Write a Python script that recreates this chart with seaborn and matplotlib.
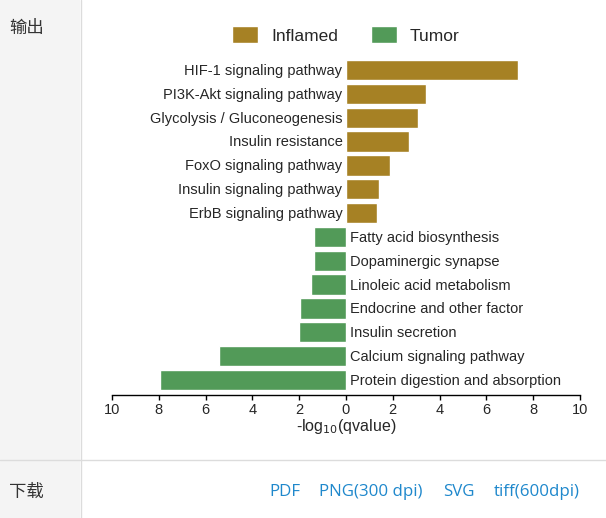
import pandas as pd
import seaborn as sns
import matplotlib.pyplot as plt
from matplotlib.patches import Patch, Rectangle
from matplotlib.lines import Line2D
from matplotlib.ticker import FuncFormatter, MultipleLocator

# pathways enriched in each group, -log10(qvalue)
inflamed_terms = ["HIF-1 signaling pathway", "PI3K-Akt signaling pathway",
                  "Glycolysis / Gluconeogenesis", "Insulin resistance",
                  "FoxO signaling pathway", "Insulin signaling pathway",
                  "ErbB signaling pathway"]
inflamed_vals = [7.34, 3.42, 3.06, 2.68, 1.87, 1.42, 1.34]

tumor_terms = ["Fatty acid biosynthesis", "Dopaminergic synapse",
               "Linoleic acid metabolism", "Endocrine and other factor",
               "Insulin secretion", "Calcium signaling pathway",
               "Protein digestion and absorption"]
tumor_vals = [1.35, 1.38, 1.48, 1.97, 2.0, 5.43, 7.95]

groups = ["Inflamed", "Tumor"]
colors = ["#A68124", "#529A58"]

df = pd.DataFrame({
    "term": inflamed_terms + tumor_terms,
    "val": inflamed_vals + [-v for v in tumor_vals],
    "group": [groups[0]] * len(inflamed_terms) + [groups[1]] * len(tumor_terms),
})

sns.set_style("white")
plt.rcParams["font.family"] = ["Liberation Sans", "Noto Sans CJK SC", "DejaVu Sans"]

fig = plt.figure(figsize=(6.06, 5.18), dpi=100)
W, H = 606, 518

# page frame: grey side panel, separators
fig.patches.append(Rectangle((0, 0), 80 / W, 1, transform=fig.transFigure,
                             facecolor="#f4f4f4", edgecolor="none", zorder=0))
fig.add_artist(Line2D([80.5 / W, 80.5 / W], [0, 1], color="#dcdcdc", lw=1))
fig.add_artist(Line2D([0, 1], [1 - 459.5 / H, 1 - 459.5 / H], color="#dcdcdc", lw=1))
fig.text(9 / W, 1 - 28 / H, "输出", fontsize=12.5, color="#333333", va="center",
         family=["Noto Sans CJK SC", "DejaVu Sans"])
fig.text(9 / W, 1 - 492 / H, "下载", fontsize=12.5, color="#333333", va="center",
         family=["Noto Sans CJK SC", "DejaVu Sans"])
for lx, lab in zip([269, 319, 443, 494], ["PDF", "PNG(300 dpi)", "SVG", "tiff(600dpi)"]):
    fig.text(lx / W, 1 - 492 / H, lab, fontsize=12.2, color="#1f88cc", va="center",
             family=["Open Sans", "DejaVu Sans"])

ax = fig.add_axes([112 / W, (H - 395) / H, 468 / W, 339.3 / H])
ax.set_facecolor("none")
sns.barplot(data=df, x="val", y="term", hue="group", palette=colors, saturation=1,
            dodge=False, width=0.85, orient="h", legend=False, ax=ax)

ax.set_ylim(13.63, -0.6)
ax.set_xlim(-10, 10)
ax.xaxis.set_major_locator(MultipleLocator(2))
ax.xaxis.set_major_formatter(FuncFormatter(lambda v, p: f"{abs(v):g}"))
ax.tick_params(axis="x", bottom=True, direction="out", length=3.5, width=1,
               labelsize=10.5, pad=2, color="black")
ax.set_yticks([])
ax.set_ylabel("")
ax.set_xlabel("-log$_{10}$(qvalue)", fontsize=11.5, labelpad=0)
for s in ["top", "right", "left"]:
    ax.spines[s].set_visible(False)
ax.spines["bottom"].set_color("black")
ax.spines["bottom"].set_linewidth(1)

for i, (t, v) in enumerate(zip(df["term"], df["val"])):
    if v > 0:
        ax.text(-0.15, i + 0.04, t, ha="right", va="center", fontsize=10.5)
    else:
        ax.text(0.15, i + 0.04, t, ha="left", va="center", fontsize=10.5)

handles = [Patch(facecolor=c, label=g) for g, c in zip(groups, colors)]
fig.legend(handles=handles, loc="center", bbox_to_anchor=(346 / W, 1 - 35 / H),
           ncol=2, frameon=False, fontsize=12.5, handlelength=1.5, handleheight=1.15,
           handletextpad=0.75, columnspacing=1.9)

fig.savefig("out.png", dpi=100)
